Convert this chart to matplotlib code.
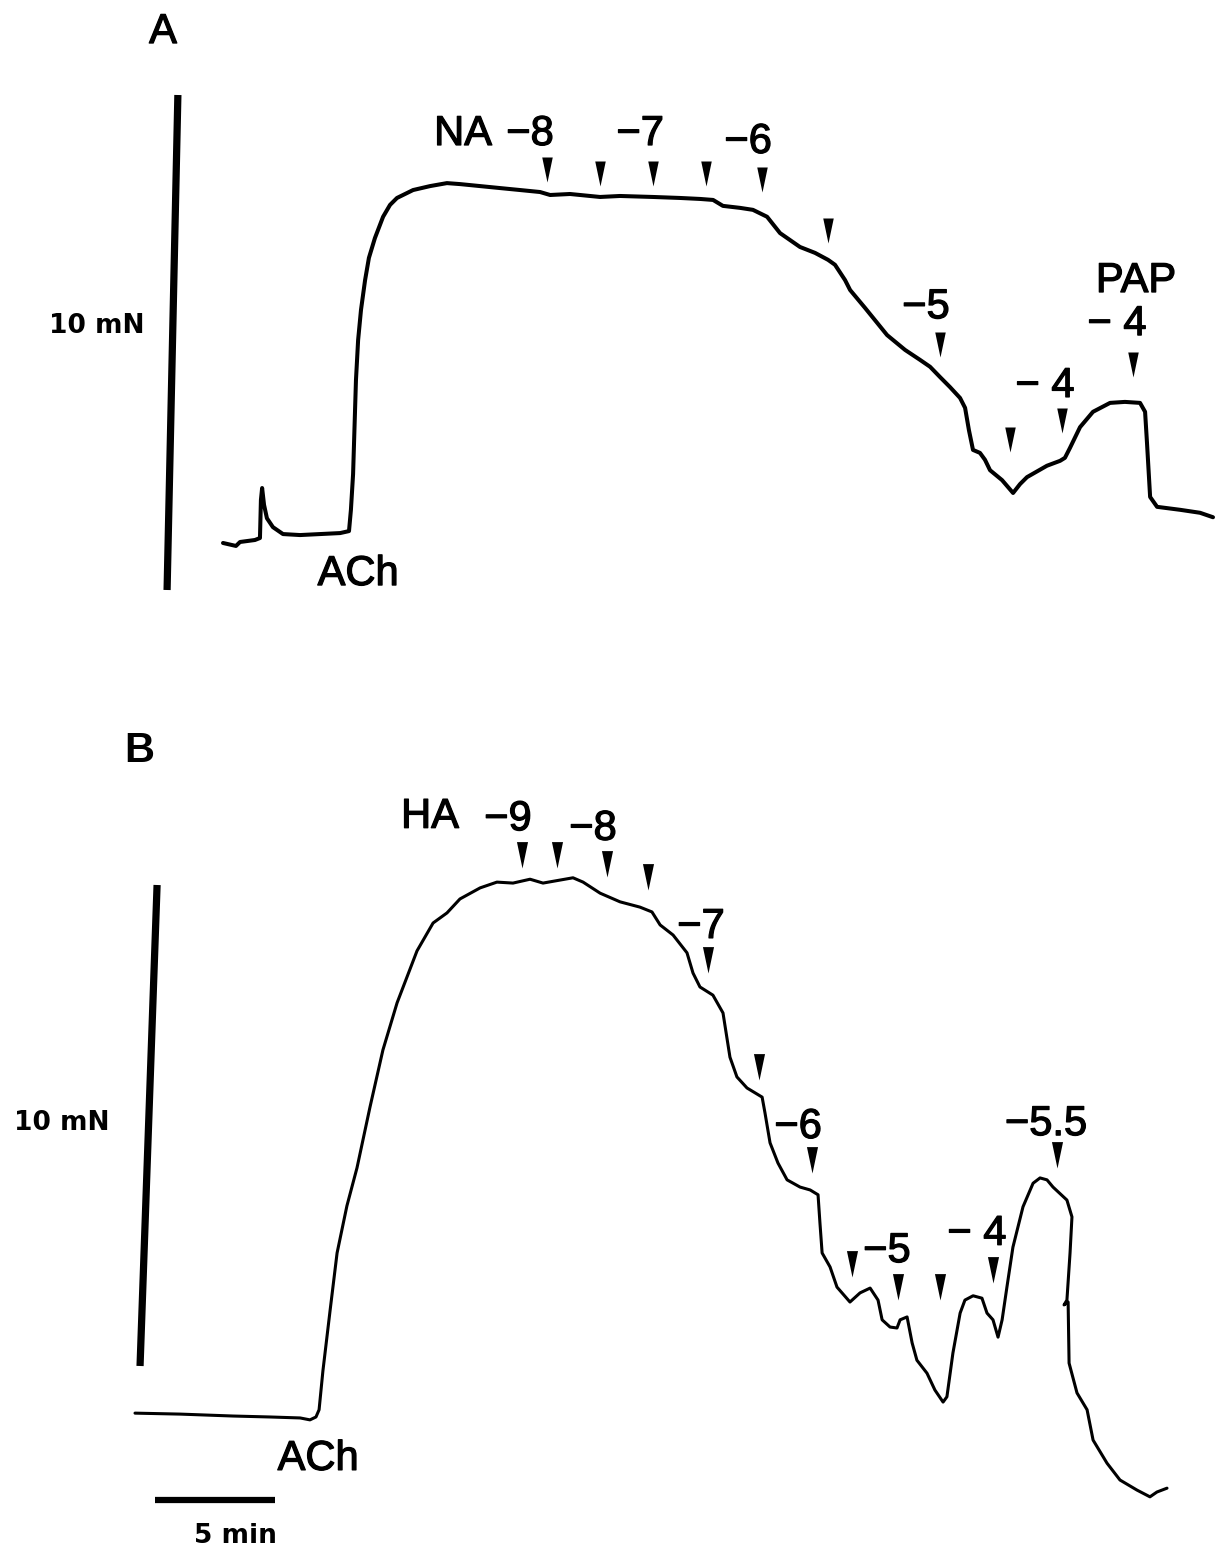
import matplotlib
matplotlib.use("Agg")
import matplotlib.pyplot as plt
import matplotlib.patheffects as pe
from matplotlib.path import Path

# ---------------- data: panel A (NA, then PAP) ----------------
# time in min from start of trace, tension in mN above the 10 mN calibration bar's foot
a_time = [0.00, 0.54, 0.71, 1.33, 1.54, 1.58, 1.63, 1.71, 1.83, 2.08, 2.50, 3.21, 4.04, 4.88,
          5.25, 5.33, 5.42, 5.54, 5.63, 5.75, 5.92, 6.08, 6.33, 6.67, 6.96, 7.25, 7.92, 8.63,
          9.33, 9.88, 10.71, 11.54, 12.38, 13.21, 13.63, 14.46, 15.71, 16.54, 17.92, 19.04,
          19.88, 20.42, 20.83, 21.54, 22.08, 22.67, 23.21, 24.04, 24.67, 25.21, 25.50, 25.92,
          26.13, 26.75, 27.67, 28.42, 29.04, 29.46, 29.88, 30.29, 30.71, 30.92, 31.08, 31.25,
          31.54, 31.75, 31.96, 32.46, 32.92, 33.21, 33.50, 34.33, 34.88, 35.08, 35.29, 35.71,
          36.25, 36.96, 37.58, 38.21, 38.42, 38.50, 38.63, 38.92, 39.88, 40.71, 41.25]
a_tension = [0.95, 0.89, 0.97, 1.01, 1.05, 1.82, 2.06, 1.72, 1.45, 1.27, 1.13, 1.11, 1.13, 1.15,
             1.19, 1.62, 2.34, 4.24, 5.05, 5.66, 6.26, 6.71, 7.11, 7.54, 7.78, 7.92, 8.08, 8.16,
             8.22, 8.20, 8.16, 8.12, 8.08, 8.04, 7.98, 8.00, 7.94, 7.96, 7.94, 7.92,
             7.90, 7.88, 7.76, 7.72, 7.68, 7.54, 7.21, 6.93, 6.81, 6.67, 6.57, 6.26,
             6.06, 5.70, 5.15, 4.85, 4.65, 4.51, 4.30, 4.10, 3.88, 3.68, 3.23, 2.83,
             2.77, 2.63, 2.42, 2.22, 1.96, 2.14, 2.28, 2.51, 2.61, 2.67, 2.87, 3.29,
             3.60, 3.78, 3.80, 3.78, 3.60, 2.97, 1.88, 1.68, 1.62, 1.56, 1.47]
a_arrow_time = [13.50, 15.71, 17.92, 20.13, 22.46, 25.21, 29.88, 32.79, 34.96, 37.92]
a_arrow_tip = [8.24, 8.16, 8.16, 8.16, 8.04, 7.01, 4.71, 2.79, 3.17, 4.30]
a_labels = ["NA", "\u22128", "\u22127", "\u22126", "\u22125", "PAP", "\u2212 4", "\u2212 4", "ACh"]
a_label_time = [10.00, 12.79, 17.38, 21.88, 29.29, 38.04, 37.25, 34.25, 5.63]
a_label_level = [8.99, 8.99, 8.99, 8.83, 5.49, 6.02, 5.15, 3.90, 0.10]

# ---------------- data: panel B (HA) ----------------
b_time = [0.00, 1.88, 4.08, 5.63, 6.88, 7.29, 7.54, 7.67, 7.83, 8.13, 8.42, 8.83, 9.25, 9.79,
          10.33, 10.92, 11.75, 12.42, 13.00, 13.54, 14.38, 15.08, 15.75, 16.46, 17.00, 18.25,
          18.67, 19.38, 20.21, 21.04, 21.54, 21.88, 22.42, 23.00, 23.25, 23.54, 24.08, 24.50,
          24.79, 25.08, 25.50, 26.13, 26.25, 26.46, 26.79, 27.17, 27.71, 28.13, 28.46, 28.54,
          28.63, 28.96, 29.25, 29.79, 30.21, 30.63, 30.96, 31.13, 31.46, 31.75, 31.88, 32.17,
          32.38, 32.58, 33.00, 33.33, 33.67, 33.83, 34.08, 34.38, 34.58, 34.92, 35.29, 35.50,
          35.75, 35.96, 36.13, 36.33, 36.58, 37.00, 37.42, 37.71, 38.00, 38.25, 38.83, 39.04,
          38.96, 38.83, 38.71, 38.88, 38.92, 39.25, 39.67, 39.92, 40.50, 41.04, 41.75, 42.29,
          42.58, 43.00]
b_tension = [-0.98, -1.00, -1.04, -1.06, -1.08, -1.12, -1.06, -0.91, -0.10, 1.16, 2.35, 3.33,
             4.12, 5.38, 6.57, 7.55, 8.63, 9.21, 9.42, 9.71, 9.94, 10.06, 10.04, 10.12, 10.04,
             10.15, 10.06, 9.83, 9.65, 9.54, 9.44, 9.17, 8.96, 8.59, 8.17, 7.88, 7.71, 7.34,
             6.42, 6.01, 5.78, 5.59, 5.26, 4.64, 4.22, 3.87, 3.72, 3.66, 3.56, 2.97,
             2.35, 2.06, 1.64, 1.33, 1.52, 1.62, 1.37, 0.96, 0.81, 0.79, 0.96, 1.02,
             0.48, 0.12, -0.15, -0.50, -0.75, -0.64, 0.27, 1.10, 1.37, 1.46, 1.41, 1.10,
             0.96, 0.60, 0.96, 1.64, 2.47, 3.31, 3.80, 3.91, 3.87, 3.72, 3.45, 3.10,
             2.35, 1.37, 1.27, 1.33, 0.06, -0.56, -0.91, -1.54, -2.02, -2.37, -2.58, -2.72,
             -2.62, -2.54]
b_arrow_time = [16.13, 17.58, 19.67, 21.38, 23.88, 26.00, 28.21, 29.88, 31.79, 33.54, 35.75, 38.42]
b_arrow_tip = [10.35, 10.35, 10.17, 9.90, 8.17, 5.95, 4.01, 1.85, 1.37, 1.37, 1.73, 4.12]
b_labels = ["HA", "\u22129", "\u22128", "\u22127", "\u22126", "\u22125", "\u2212 4", "\u22125.5", "ACh"]
b_label_time = [12.29, 15.54, 19.08, 23.58, 27.63, 31.33, 35.08, 37.96, 7.63]
b_label_level = [11.19, 11.14, 10.94, 8.90, 4.74, 2.16, 2.52, 4.80, -2.16]

# calibration
cal_force = 10.0   # mN
cal_time = 5.0     # min

# ---------------- figure ----------------
W, H = 1223, 1550
fig = plt.figure(figsize=(W / 100, H / 100), dpi=100)
fig.patch.set_facecolor("white")

heavy = [pe.withStroke(linewidth=0.9, foreground="black")]
LBL = dict(family=["Liberation Sans", "DejaVu Sans"], fontsize=30, color="black",
           path_effects=heavy)
SMALL = dict(family=["DejaVu Sans"], fontweight="bold", color="black")

# arrowhead marker with tip at the data point
arrow_path = Path([(-0.42, 2.0), (0.42, 2.0), (0.0, 0.0), (-0.42, 2.0)],
                  [Path.MOVETO, Path.LINETO, Path.LINETO, Path.CLOSEPOLY])

# panel A axes: 24 px/min, 49.5 px/mN
axA = fig.add_axes([0, 0, 1, 1])
axA.set_xlim(-223 / 24, (W - 223) / 24)
axA.set_ylim((590 - H) / 49.5, 590 / 49.5)
axA.axis("off")
axA.patch.set_alpha(0)

axA.plot(a_time, a_tension, color="black", lw=2.9, solid_joinstyle="round",
         solid_capstyle="round")
axA.plot(a_arrow_time, a_arrow_tip, ls="none", marker=arrow_path, ms=36,
         color="black", mew=0)
for s, t, v in zip(a_labels, a_label_time, a_label_level):
    axA.text(t, v, s, ha="center", va="baseline", **LBL)
# 10 mN bar
axA.plot([-2.33, -1.88], [0, cal_force], color="black", lw=5.2, solid_capstyle="butt")
axA.text(-5.25, 5.19, "10 mN", ha="center", va="baseline", fontsize=19, **SMALL)
axA.text(-2.50, 11.05, "A", ha="center", va="baseline", **LBL)

# panel B axes: 24 px/min, 48.1 px/mN
axB = fig.add_axes([0, 0, 1, 1])
axB.set_xlim(-135 / 24, (W - 135) / 24)
axB.set_ylim((1366 - H) / 48.1, 1366 / 48.1)
axB.axis("off")
axB.patch.set_alpha(0)

axB.plot(b_time, b_tension, color="black", lw=2.2, solid_joinstyle="round",
         solid_capstyle="round")
axB.plot(b_arrow_time, b_arrow_tip, ls="none", marker=arrow_path, ms=38,
         color="black", mew=0)
for s, t, v in zip(b_labels, b_label_time, b_label_level):
    axB.text(t, v, s, ha="center", va="baseline", **LBL)
axB.plot([0.21, 0.92], [0, cal_force], color="black", lw=5.2, solid_capstyle="butt")
axB.text(-3.04, 4.91, "10 mN", ha="center", va="baseline", fontsize=19, **SMALL)
axB.text(0.17, 12.56, "B", ha="center", va="baseline",
         family=["Liberation Sans", "DejaVu Sans"], fontsize=30, fontweight="bold")
# 5 min bar
axB.plot([0.83, 0.83 + cal_time], [-2.79, -2.79], color="black", lw=4.5,
         solid_capstyle="butt")
axB.text(4.17, -3.68, "5 min", ha="center", va="baseline", fontsize=19, **SMALL)

fig.savefig("out.png", dpi=100, facecolor="white")
